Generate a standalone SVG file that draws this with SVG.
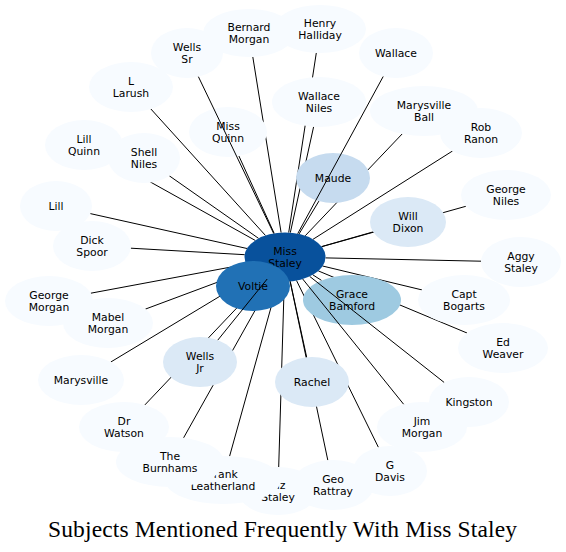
<svg xmlns="http://www.w3.org/2000/svg" width="566" height="552" viewBox="0 0 566 552">
<style>
line{stroke:#000;stroke-width:1;fill:none}
ellipse{stroke:none}
.l{fill:#f7fbff}.c1{fill:#dbe9f6}.c2{fill:#c6dbef}.c3{fill:#9ecae1}.c4{fill:#2171b5}.c5{fill:#08519c}
text{font-family:"DejaVu Sans",sans-serif;font-size:10.8px;text-anchor:middle;fill:#000}
text.title{font-family:"Liberation Serif",serif;font-size:23.5px;text-anchor:start}
</style>
<rect width="566" height="552" fill="#fff"/>
<g id="edges-under">
<line x1="252.8" y1="56.9" x2="281.1" y2="232.6"/>
<line x1="316.3" y1="52.9" x2="288.7" y2="232.6"/>
<line x1="150.9" y1="109" x2="265.5" y2="235.5"/>
<line x1="313.6" y1="126.8" x2="290.3" y2="232.7"/>
<line x1="402.2" y1="133.9" x2="305.2" y2="235.8"/>
<line x1="452.5" y1="151" x2="313" y2="239.3"/>
<line x1="238.9" y1="156" x2="274.2" y2="233.4"/>
<line x1="113.4" y1="161.4" x2="255.2" y2="240.4"/>
<line x1="169.3" y1="175.8" x2="258.6" y2="238.4"/>
<line x1="318.9" y1="201.1" x2="299" y2="234"/>
<line x1="465.8" y1="206.3" x2="321.7" y2="246.7"/>
<line x1="90.3" y1="213.6" x2="247" y2="248.5"/>
<line x1="373.1" y1="231.9" x2="321.6" y2="246.6"/>
<line x1="130.8" y1="248.2" x2="244.7" y2="254.7"/>
<line x1="481" y1="261.2" x2="325.5" y2="257.9"/>
<line x1="90.8" y1="293.2" x2="246.3" y2="264.2"/>
<line x1="421.9" y1="289.9" x2="322.6" y2="266"/>
<line x1="321.5" y1="280.4" x2="312.8" y2="274.8"/>
<line x1="145.4" y1="309.1" x2="250.5" y2="269.9"/>
<line x1="467" y1="333" x2="318.3" y2="270.9"/>
<line x1="110.8" y1="362" x2="256.3" y2="274.3"/>
<line x1="306.7" y1="357.3" x2="290.2" y2="281.3"/>
<line x1="144.9" y1="404.9" x2="264.9" y2="278.3"/>
<line x1="378.4" y1="447.3" x2="296.5" y2="280.5"/>
<line x1="183.6" y1="437.8" x2="272" y2="280.2"/>
<line x1="229.6" y1="456.2" x2="278.3" y2="281.2"/>
<line x1="278.7" y1="467" x2="284.3" y2="281.5"/>
<line x1="327.8" y1="460.2" x2="290.1" y2="281.3"/>
</g>
<g id="wells-sr"><ellipse class="l" cx="187" cy="53" rx="36" ry="25"/><text><tspan x="187" y="51">Wells</tspan><tspan x="187" y="63">Sr</tspan></text></g>
<g id="bernard-morgan"><ellipse class="l" cx="249" cy="33" rx="46" ry="24"/><text><tspan x="249" y="31">Bernard</tspan><tspan x="249" y="43">Morgan</tspan></text></g>
<g id="henry-halliday"><ellipse class="l" cx="320" cy="29" rx="46" ry="24"/><text><tspan x="320" y="27">Henry</tspan><tspan x="320" y="39">Halliday</tspan></text></g>
<g id="wallace"><ellipse class="l" cx="396" cy="53" rx="37" ry="25"/><text x="396" y="57">Wallace</text></g>
<g id="l-larush"><ellipse class="l" cx="131" cy="87" rx="42" ry="25"/><text><tspan x="131" y="85">L</tspan><tspan x="131" y="97">Larush</tspan></text></g>
<g id="wallace-niles"><ellipse class="l" cx="319" cy="102" rx="47" ry="25"/><text><tspan x="319" y="100">Wallace</tspan><tspan x="319" y="112">Niles</tspan></text></g>
<g id="marysville-ball"><ellipse class="l" cx="424" cy="111" rx="54" ry="25"/><text><tspan x="424" y="109">Marysville</tspan><tspan x="424" y="121">Ball</tspan></text></g>
<g id="rob-ranon"><ellipse class="l" cx="481" cy="133" rx="41" ry="25"/><text><tspan x="481" y="131">Rob</tspan><tspan x="481" y="143">Ranon</tspan></text></g>
<g id="miss-quinn"><ellipse class="l" cx="228" cy="132" rx="39" ry="25"/><text><tspan x="228" y="130">Miss</tspan><tspan x="228" y="142">Quinn</tspan></text></g>
<g id="lill-quinn"><ellipse class="l" cx="84" cy="145" rx="39" ry="25"/><text><tspan x="84" y="143">Lill</tspan><tspan x="84" y="155">Quinn</tspan></text></g>
<g id="shell-niles"><ellipse class="l" cx="144" cy="158" rx="36" ry="25"/><text><tspan x="144" y="156">Shell</tspan><tspan x="144" y="168">Niles</tspan></text></g>
<g id="maude"><ellipse class="c2" cx="333" cy="178" rx="37" ry="25"/><text x="333" y="182">Maude</text></g>
<g id="george-niles"><ellipse class="l" cx="506" cy="195" rx="45" ry="25"/><text><tspan x="506" y="193">George</tspan><tspan x="506" y="205">Niles</tspan></text></g>
<g id="lill"><ellipse class="l" cx="56" cy="206" rx="36" ry="25"/><text x="56" y="210">Lill</text></g>
<g id="will-dixon"><ellipse class="c1" cx="408" cy="222" rx="38" ry="25"/><text><tspan x="408" y="220">Will</tspan><tspan x="408" y="232">Dixon</tspan></text></g>
<g id="dick-spoor"><ellipse class="l" cx="92" cy="246" rx="39" ry="25"/><text><tspan x="92" y="244">Dick</tspan><tspan x="92" y="256">Spoor</tspan></text></g>
<g id="miss-staley"><ellipse class="c5" cx="285" cy="257" rx="40.5" ry="24.5"/><text><tspan x="285" y="255">Miss</tspan><tspan x="285" y="267">Staley</tspan></text></g>
<g id="aggy-staley"><ellipse class="l" cx="521" cy="262" rx="40" ry="25"/><text><tspan x="521" y="260">Aggy</tspan><tspan x="521" y="272">Staley</tspan></text></g>
<g id="voltie"><ellipse class="c4" cx="253" cy="286" rx="37" ry="25"/><text x="253" y="290">Voltie</text></g>
<g id="george-morgan"><ellipse class="l" cx="49" cy="301" rx="44" ry="25"/><text><tspan x="49" y="299">George</tspan><tspan x="49" y="311">Morgan</tspan></text></g>
<g id="capt-bogarts"><ellipse class="l" cx="464" cy="300" rx="46" ry="25"/><text><tspan x="464" y="298">Capt</tspan><tspan x="464" y="310">Bogarts</tspan></text></g>
<g id="grace-bamford"><ellipse class="c3" cx="352" cy="300" rx="49" ry="25"/><text><tspan x="352" y="298">Grace</tspan><tspan x="352" y="310">Bamford</tspan></text></g>
<g id="mabel-morgan"><ellipse class="l" cx="108" cy="323" rx="45" ry="25"/><text><tspan x="108" y="321">Mabel</tspan><tspan x="108" y="333">Morgan</tspan></text></g>
<g id="ed-weaver"><ellipse class="l" cx="503" cy="348" rx="45" ry="25"/><text><tspan x="503" y="346">Ed</tspan><tspan x="503" y="358">Weaver</tspan></text></g>
<g id="wells-jr"><ellipse class="c1" cx="200" cy="362" rx="37" ry="25"/><text><tspan x="200" y="360">Wells</tspan><tspan x="200" y="372">Jr</tspan></text></g>
<g id="marysville"><ellipse class="l" cx="81" cy="380" rx="43" ry="25"/><text x="81" y="384">Marysville</text></g>
<g id="rachel"><ellipse class="c1" cx="312" cy="382" rx="37" ry="25"/><text x="312" y="386">Rachel</text></g>
<g id="kingston"><ellipse class="l" cx="469" cy="402" rx="40" ry="25"/><text x="469" y="406">Kingston</text></g>
<g id="dr-watson"><ellipse class="l" cx="124" cy="427" rx="45" ry="25"/><text><tspan x="124" y="425">Dr</tspan><tspan x="124" y="437">Watson</tspan></text></g>
<g id="jim-morgan"><ellipse class="l" cx="422" cy="427" rx="45" ry="25"/><text><tspan x="422" y="425">Jim</tspan><tspan x="422" y="437">Morgan</tspan></text></g>
<g id="g-davis"><ellipse class="l" cx="390" cy="471" rx="37" ry="25"/><text><tspan x="390" y="469">G</tspan><tspan x="390" y="481">Davis</tspan></text></g>
<g id="liz-staley"><ellipse class="l" cx="278" cy="491" rx="40" ry="24"/><text><tspan x="278" y="489">Liz</tspan><tspan x="278" y="501">Staley</tspan></text></g>
<g id="geo-rattray"><ellipse class="l" cx="333" cy="485" rx="41" ry="25"/><text><tspan x="333" y="483">Geo</tspan><tspan x="333" y="495">Rattray</tspan></text></g>
<g id="frank-leatherland"><ellipse class="l" cx="223" cy="480" rx="58" ry="24"/><text><tspan x="223" y="478">Frank</tspan><tspan x="223" y="490">Leatherland</tspan></text></g>
<g id="the-burnhams"><ellipse class="l" cx="170" cy="462" rx="54" ry="25"/><text><tspan x="170" y="460">The</tspan><tspan x="170" y="472">Burnhams</tspan></text></g>
<g id="edges-over">
<line x1="198.4" y1="76.7" x2="273.7" y2="233.5"/>
<line x1="383.2" y1="76.5" x2="297.7" y2="233.7"/>
<line x1="217.8" y1="340.1" x2="267.2" y2="279"/>
<line x1="444.1" y1="382.4" x2="309.7" y2="276.4"/>
<line x1="403.6" y1="404.2" x2="302.7" y2="279"/>
</g>
<text class="title" x="48" y="537" textLength="469">Subjects Mentioned Frequently With Miss Staley</text>
</svg>
